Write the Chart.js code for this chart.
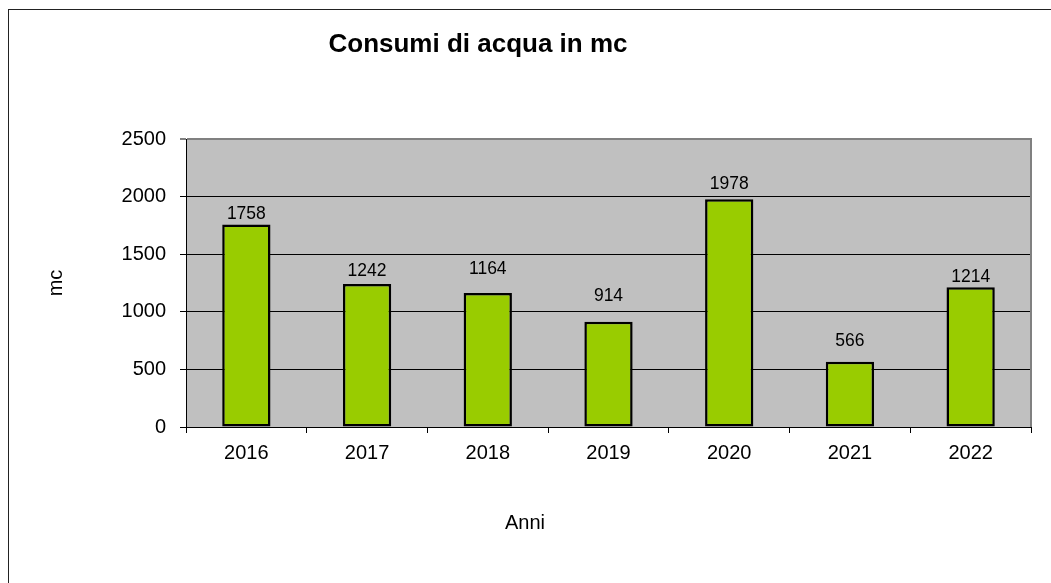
<!DOCTYPE html>
<html lang="it">
<head>
    <meta charset="UTF-8">
    <title>Consumi di acqua in mc</title>
    <script src="https://cdn.jsdelivr.net/npm/chart.js"></script>
    <style>
        body { margin: 0; background: #ffffff; }
        #wrap { width: 1051px; height: 583px; }
    </style>
</head>
<body>
    <div id="wrap">
        <canvas id="waterChart" width="1051" height="583"></canvas>
    </div>

    <script>
        // Dati
        const anni = ['2016', '2017', '2018', '2019', '2020', '2021', '2022'];
        const consumi = [1758, 1242, 1164, 914, 1978, 566, 1214];
        const yTicks = [0, 500, 1000, 1500, 2000, 2500];

        const FONT = 'Liberation Sans, Arial, sans-serif';

        // distanza etichetta / barra (come nell'originale, non uniforme)
        const labelGap = [5, 8, 19, 21, 10, 16, 5];

        // sfondo grigio area, bordo esterno, titoli
        const decorPlugin = {
            id: 'decor',
            beforeDraw(chart) {
                const { ctx, chartArea: a } = chart;
                ctx.save();
                ctx.fillStyle = '#c0c0c0';
                ctx.fillRect(a.left, a.top, a.right - a.left, a.bottom - a.top);
                ctx.strokeStyle = '#222222';
                ctx.lineWidth = 1;
                ctx.strokeRect(8.5, 9.5, 2000, 2000);
                ctx.restore();
            },
            afterDraw(chart) {
                const { ctx, chartArea: a } = chart;
                ctx.save();
                // bordo destro area
                ctx.strokeStyle = '#808080';
                ctx.lineWidth = 2;
                ctx.beginPath();
                ctx.moveTo(a.right, a.top - 1);
                ctx.lineTo(a.right, a.bottom);
                ctx.stroke();

                ctx.fillStyle = '#000000';
                ctx.textAlign = 'center';
                ctx.textBaseline = 'alphabetic';
                ctx.font = 'bold 26px ' + FONT;
                ctx.fillText('Consumi di acqua in mc', 478, 52);

                ctx.font = '20px ' + FONT;
                ctx.fillText('Anni', 525, 529);

                ctx.translate(62, 283);
                ctx.rotate(-Math.PI / 2);
                ctx.fillText('mc', 0, 0);
                ctx.restore();
            }
        };

        const valuePlugin = {
            id: 'values',
            afterDatasetsDraw(chart) {
                const { ctx } = chart;
                const meta = chart.getDatasetMeta(0);
                ctx.save();
                ctx.fillStyle = '#000000';
                ctx.font = '17.5px ' + FONT;
                ctx.textAlign = 'center';
                ctx.textBaseline = 'alphabetic';
                meta.data.forEach((bar, i) => {
                    ctx.fillText(String(consumi[i]), bar.x, bar.y - labelGap[i]);
                });
                ctx.restore();
            }
        };

        const ctx = document.getElementById('waterChart').getContext('2d');
        new Chart(ctx, {
            type: 'bar',
            data: {
                labels: anni,
                datasets: [{
                    label: 'mc',
                    data: consumi,
                    backgroundColor: '#99cc00',
                    borderColor: '#000000',
                    borderWidth: 2.5,
                    borderSkipped: false,
                    barPercentage: 0.4,
                    categoryPercentage: 1.0
                }]
            },
            options: {
                responsive: false,
                animation: false,
                layout: { padding: { top: 139, right: 20, left: 0, bottom: 0 } },
                plugins: {
                    legend: { display: false },
                    title: { display: false },
                    tooltip: { enabled: false }
                },
                scales: {
                    x: {
                        afterFit: s => { s.height = 156; },
                        grid: {
                            display: true,
                            drawOnChartArea: false,
                            drawTicks: true,
                            tickLength: 6,
                            color: '#000000',
                            offset: true
                        },
                        border: { display: true, color: '#000000', width: 1 },
                        ticks: {
                            color: '#000000',
                            padding: 8,
                            font: { family: FONT, size: 20 }
                        }
                    },
                    y: {
                        min: 0,
                        max: 2500,
                        afterFit: s => { s.width = 186; },
                        afterBuildTicks: s => { s.ticks = yTicks.map(v => ({ value: v })); },
                        grid: {
                            color: c => (c.tick && c.tick.value === 2500 ? '#808080' : '#000000'),
                            lineWidth: c => (c.tick && c.tick.value === 2500 ? 2 : 1),
                            tickLength: 6
                        },
                        border: { display: true, color: '#000000', width: 1 },
                        ticks: {
                            color: '#000000',
                            padding: 14,
                            font: { family: FONT, size: 20 },
                            callback: v => String(v)
                        }
                    }
                }
            },
            plugins: [decorPlugin, valuePlugin]
        });
    </script>
</body>
</html>
